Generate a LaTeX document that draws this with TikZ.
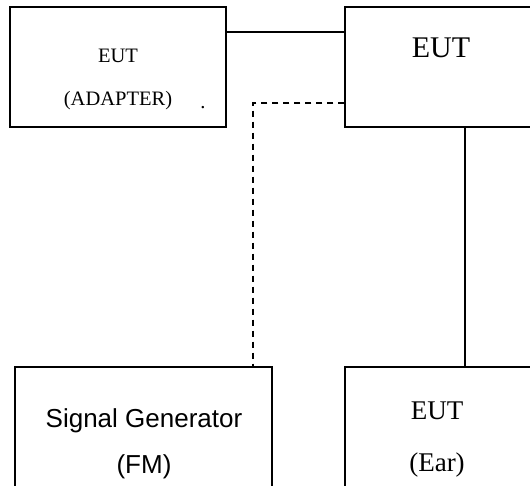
\documentclass[tikz,border=0pt]{standalone}
\usepackage{fontspec}
\setmainfont{Liberation Serif}
\setsansfont{Liberation Sans}
\begin{document}
\begin{tikzpicture}[x=1pt,y=-1pt,
  box/.style={draw,line width=1.3pt,inner sep=0pt},
  lbl/.style={inner sep=0pt,anchor=center},
  wire/.style={line width=1.3pt}]
\clip (0,0) rectangle (530,486);
\fill[white] (0,0) rectangle (530,486);
\node[box,minimum width=216,minimum height=120] (adp) at (118,67) {};
\node[box,minimum width=195,minimum height=120] (eut) at (442.5,67) {};
\node[box,minimum width=257,minimum height=133] (sg) at (143.5,433.5) {};
\node[box,minimum width=195,minimum height=133] (ear) at (442.5,433.5) {};
\node[lbl,font=\fontsize{20.5}{24}\selectfont] (t1) at (118,56) {EUT};
\node[lbl,font=\fontsize{20.5}{24}\selectfont] (t2) at (118,101) {(ADAPTER)};
\node[lbl,font=\fontsize{20.5}{24}\selectfont,anchor=base] (t3) at (203,109) {.};
\node[lbl,font=\fontsize{30}{36}\selectfont] (t4) at (441,48) {EUT};
\node[lbl,font=\sffamily\fontsize{26}{30}\selectfont] (t5) at (144,421) {Signal Generator};
\node[lbl,font=\sffamily\fontsize{26}{30}\selectfont] (t6) at (144,467) {(FM)};
\node[lbl,font=\fontsize{27}{32}\selectfont] (t7) at (437,411) {EUT};
\node[lbl,font=\fontsize{27}{32}\selectfont] (t8) at (437,465) {(Ear)};
\coordinate (c1) at (0,32);
\coordinate (dk) at (253,103);
\coordinate (vx) at (465,0);
\draw[wire] (c1 -| adp.east) -- (c1 -| eut.west);
\draw[wire,dash pattern=on 6pt off 5pt] (eut.west |- dk) -- (dk) -- (sg.north -| dk);
\draw[wire] (eut.south -| vx) -- (ear.north -| vx);
\end{tikzpicture}
\end{document}
